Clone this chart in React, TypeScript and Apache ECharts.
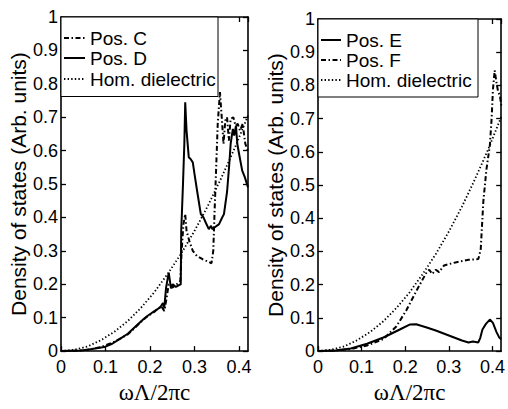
import React, { useEffect, useRef } from "react";
import * as echarts from "echarts";

// ---- data ----
const xTicks = [0, 0.1, 0.2, 0.3, 0.4];
const yMax = 1;

const hom: number[][] = [
  [0, 0], [0.03, 0.004], [0.06, 0.014], [0.09, 0.033], [0.12, 0.058], [0.15, 0.09],
  [0.18, 0.13], [0.21, 0.177], [0.24, 0.232], [0.27, 0.292], [0.3, 0.36], [0.33, 0.435],
  [0.36, 0.518], [0.39, 0.607], [0.42, 0.705],
];

const posC: number[][] = [
  [0, 0], [0.03, 0.001], [0.06, 0.004], [0.09, 0.012], [0.12, 0.028], [0.15, 0.05],
  [0.17, 0.075], [0.19, 0.1], [0.21, 0.118], [0.225, 0.135], [0.232, 0.12], [0.236, 0.15],
  [0.242, 0.2], [0.25, 0.19], [0.26, 0.2], [0.268, 0.21], [0.271, 0.3], [0.275, 0.38],
  [0.279, 0.41], [0.282, 0.36], [0.288, 0.33], [0.296, 0.3], [0.305, 0.285], [0.318, 0.275],
  [0.33, 0.268], [0.338, 0.263], [0.342, 0.3], [0.345, 0.42], [0.348, 0.53], [0.352, 0.68],
  [0.357, 0.775], [0.361, 0.7], [0.365, 0.62], [0.369, 0.69], [0.373, 0.7], [0.377, 0.63],
  [0.381, 0.695], [0.387, 0.7], [0.392, 0.675], [0.397, 0.68], [0.402, 0.66], [0.408, 0.68],
  [0.414, 0.62], [0.42, 0.6],
];

const posD: number[][] = [
  [0, 0], [0.02, 0.001], [0.045, 0.002], [0.07, 0.006], [0.097, 0.012], [0.115, 0.022],
  [0.134, 0.038], [0.15, 0.052], [0.171, 0.078], [0.185, 0.095], [0.194, 0.105], [0.21, 0.12],
  [0.223, 0.131], [0.229, 0.144], [0.232, 0.13], [0.236, 0.19], [0.242, 0.235], [0.247, 0.188],
  [0.251, 0.2], [0.258, 0.192], [0.266, 0.198], [0.269, 0.2], [0.27, 0.36], [0.274, 0.5],
  [0.277, 0.62], [0.279, 0.745], [0.282, 0.66], [0.287, 0.58], [0.291, 0.575], [0.296, 0.565],
  [0.301, 0.52], [0.306, 0.477], [0.314, 0.41], [0.32, 0.4], [0.325, 0.385], [0.332, 0.365],
  [0.337, 0.375], [0.34, 0.365], [0.347, 0.372], [0.355, 0.38], [0.362, 0.4], [0.366, 0.41],
  [0.373, 0.477], [0.378, 0.56], [0.381, 0.62], [0.386, 0.665], [0.389, 0.645], [0.393, 0.675],
  [0.396, 0.62], [0.4, 0.59], [0.407, 0.54], [0.413, 0.52], [0.42, 0.49],
];

const posE: number[][] = [
  [0, 0], [0.04, 0.002], [0.075, 0.008], [0.1125, 0.022], [0.15, 0.041], [0.1875, 0.065],
  [0.21, 0.08], [0.225, 0.081], [0.2475, 0.072], [0.27, 0.062], [0.3, 0.047], [0.33, 0.032],
  [0.345, 0.026], [0.355, 0.029], [0.3675, 0.026], [0.372, 0.04], [0.377, 0.065], [0.385, 0.082],
  [0.394, 0.095], [0.401, 0.085], [0.409, 0.058], [0.415, 0.042], [0.42, 0.036],
];

const posF: number[][] = [
  [0, 0], [0.04, 0.002], [0.075, 0.006], [0.1125, 0.017], [0.15, 0.036], [0.18, 0.075],
  [0.2025, 0.123], [0.225, 0.18], [0.2475, 0.234], [0.255, 0.245], [0.262, 0.232], [0.27, 0.245],
  [0.2775, 0.238], [0.289, 0.258], [0.315, 0.267], [0.345, 0.275], [0.3675, 0.277], [0.373, 0.306],
  [0.379, 0.45], [0.386, 0.546], [0.394, 0.62], [0.398, 0.7], [0.401, 0.787], [0.405, 0.845],
  [0.409, 0.81], [0.413, 0.78], [0.417, 0.77], [0.42, 0.74],
];

const leftLegend = ["Pos. C", "Pos. D", "Hom. dielectric"];
const rightLegend = ["Pos. E", "Pos. F", "Hom. dielectric"];
const xName = "ωΛ/2πc";
const yName = "Density of states (Arb. units)";

// ---- styles ----
const SANS = "'Liberation Sans', Arial, Helvetica, sans-serif";
const SERIF = "'Liberation Serif', 'Times New Roman', serif";
const DASHDOT = [5, 2.5, 1.5, 2.5];
const DOT = [1.4, 2.2];
const solidStyle = { color: "#000", width: 2, type: "solid" as any };
const dashDotStyle = { color: "#000", width: 2, type: DASHDOT as any };
const dotStyle = { color: "#000", width: 1.8, type: DOT as any };

const axisLine = { show: true, onZero: false, lineStyle: { color: "#000", width: 1.6 } };
const axisTick = { show: true, inside: true, length: 5, lineStyle: { color: "#000", width: 1.3 } };
const labelStyle = { color: "#000", fontSize: 18, fontFamily: SANS };

function xAxes(grid: number) {
  return [
    {
      gridIndex: grid, type: "value", min: 0, max: 0.42, interval: 0.1, position: "bottom",
      axisLine, axisTick, splitLine: { show: false },
      axisLabel: { ...labelStyle, margin: 7, showMaxLabel: false,
        formatter: (v: number) => (xTicks.some((t) => Math.abs(t - v) < 1e-9) ? String(+v.toFixed(2)) : "") },
      name: xName, nameLocation: "middle", nameGap: 24,
      nameTextStyle: { color: "#000", fontFamily: SERIF, fontSize: 23 },
    },
    {
      gridIndex: grid, type: "value", min: 0, max: 0.42, interval: 0.1, position: "top",
      axisLine, axisTick, splitLine: { show: false }, axisLabel: { show: false },
    },
  ];
}

function yAxes(grid: number) {
  return [
    {
      gridIndex: grid, type: "value", min: 0, max: yMax, interval: 0.1, position: "left",
      axisLine, axisTick, splitLine: { show: false },
      axisLabel: { ...labelStyle, margin: 3, formatter: (v: number) => String(+v.toFixed(1)) },
      name: yName, nameLocation: "middle", nameGap: 28,
      nameTextStyle: { color: "#000", fontFamily: SANS, fontSize: 21 },
    },
    {
      gridIndex: grid, type: "value", min: 0, max: yMax, interval: 0.1, position: "right",
      axisLine, axisTick, splitLine: { show: false }, axisLabel: { show: false },
    },
  ];
}

function line(name: string, data: number[][], style: any, xi: number, yi: number) {
  return {
    name, type: "line", data, xAxisIndex: xi, yAxisIndex: yi, showSymbol: false, symbol: "none",
    lineStyle: style, clip: true, silent: true, z: 2,
  };
}

function legendBox(x: number, y: number, w: number, h: number, labels: string[], styles: any[], textX: number, rowY: number[]) {
  const children: any[] = [
    { type: "rect", shape: { x, y, width: w, height: h }, style: { fill: "#fff", stroke: "#000", lineWidth: 1 }, z: 10 },
  ];
  labels.forEach((lab, i) => {
    const s = styles[i];
    children.push({
      type: "line", shape: { x1: x + 3, y1: rowY[i], x2: textX - 5, y2: rowY[i] },
      style: { stroke: "#000", lineWidth: s.width, lineDash: s.type === "solid" ? null : s.type }, z: 11,
    });
    children.push({
      type: "text", x: textX, y: rowY[i],
      style: { text: lab, fill: "#000", font: `19px ${SANS}`, verticalAlign: "middle", align: "left" }, z: 11,
    });
  });
  return children;
}

export default function App() {
  const ref = useRef<HTMLDivElement>(null);
  useEffect(() => {
    if (!ref.current) return;
    const chart = echarts.init(ref.current, undefined, { renderer: "svg" });
    const option: any = {
      animation: false,
      backgroundColor: "#fff",
      grid: [
        { left: 61, top: 17, width: 187, height: 348 },
        { left: 318, top: 19, width: 188, height: 346 },
      ],
      xAxis: [...xAxes(0), ...xAxes(1)],
      yAxis: [...yAxes(0), ...yAxes(1)],
      series: [
        line("Hom. dielectric", hom, dotStyle, 0, 0),
        line("Pos. C", posC, dashDotStyle, 0, 0),
        line("Pos. D", posD, solidStyle, 0, 0),
        line("Hom. dielectric ", hom, dotStyle, 2, 2),
        line("Pos. F", posF, dashDotStyle, 2, 2),
        line("Pos. E", posE, solidStyle, 2, 2),
      ],
      graphic: [
        ...legendBox(61, 17, 157, 79.5, leftLegend, [dashDotStyle, solidStyle, dotStyle], 90, [38, 58, 79]),
        ...legendBox(318, 19, 160, 78, rightLegend, [solidStyle, dashDotStyle, dotStyle], 346, [40, 60, 80]),
      ],
    };
    chart.setOption(option);
    return () => chart.dispose();
  }, []);
  return <div ref={ref} style={{ position: "absolute", left: 0, top: 0, width: 508, height: 409 }} />;
}
